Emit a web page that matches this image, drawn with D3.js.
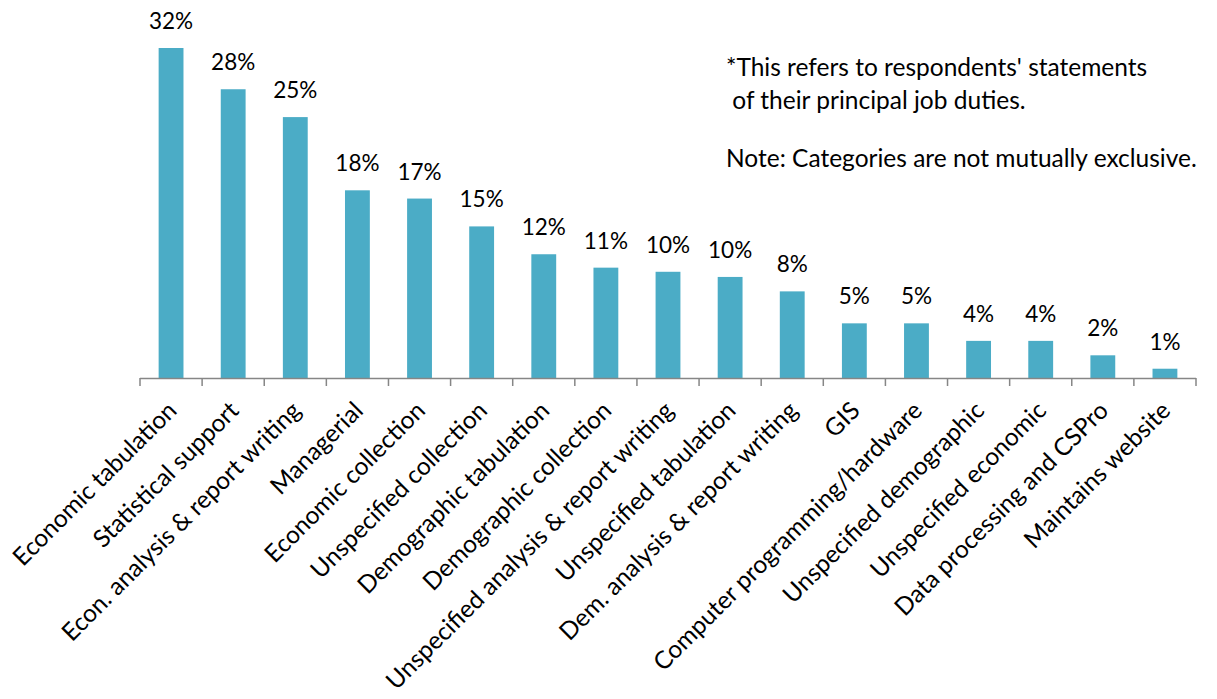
<!DOCTYPE html>
<html>
<head>
<meta charset="utf-8">
<script src="https://cdn.jsdelivr.net/npm/d3@7"></script>
<style>
  html, body { margin: 0; padding: 0; background: #fff; }
  svg text { font-family: Lato, "Open Sans", sans-serif; fill: #000; }
</style>
</head>
<body>
<svg id="chart" width="1217" height="699"></svg>
<script>
// Principal job duties of respondents (percent of respondents)
const categories = [
  "Economic tabulation",
  "Statistical support",
  "Econ. analysis & report writing",
  "Managerial",
  "Economic collection",
  "Unspecified collection",
  "Demographic tabulation",
  "Demographic collection",
  "Unspecified analysis & report writing",
  "Unspecified tabulation",
  "Dem. analysis & report writing",
  "GIS",
  "Computer programming/hardware",
  "Unspecified demographic",
  "Unspecified economic",
  "Data processing and CSPro",
  "Maintains website"
];
const percentages = [32.0, 28.0, 25.3, 18.2, 17.4, 14.7, 12.0, 10.7, 10.3, 9.8, 8.4, 5.3, 5.3, 3.6, 3.6, 2.2, 0.9];
const notes = [
  "*This refers to respondents' statements",
  " of their principal job duties.",
  "Note: Categories are not mutually exclusive."
];

const svg = d3.select("#chart");
const axisY = 378;

const x = d3.scaleBand()
  .domain(categories)
  .range([140, 1196])
  .paddingInner(0.6)
  .paddingOuter(0.3);

const y = d3.scaleLinear()
  .domain([0, 32])
  .range([axisY, 48]);

const data = categories.map((c, i) => ({ cat: c, value: percentages[i] }));

// Bars
svg.append("g")
  .selectAll("rect")
  .data(data)
  .join("rect")
  .attr("x", d => x(d.cat))
  .attr("y", d => y(d.value))
  .attr("width", x.bandwidth())
  .attr("height", d => y(0) - y(d.value))
  .attr("fill", "#4BACC6");

// Value labels
svg.append("g")
  .selectAll("text")
  .data(data)
  .join("text")
  .attr("x", d => x(d.cat) + x.bandwidth() / 2)
  .attr("y", d => y(d.value) - 19)
  .attr("text-anchor", "middle")
  .attr("font-size", 22.5)
  .text(d => d3.format(".0f")(d.value) + "%");

// Category axis with ticks between categories
const step = x.step();
const edges = d3.range(categories.length + 1).map(i => 140 + i * step);
const axisG = svg.append("g");
axisG.append("line")
  .attr("x1", 140).attr("x2", 1196)
  .attr("y1", axisY + 0.5).attr("y2", axisY + 0.5)
  .attr("stroke", "#868686").attr("stroke-width", 1.5);
axisG.selectAll("line.tick")
  .data(edges)
  .join("line")
  .attr("class", "tick")
  .attr("x1", d => d).attr("x2", d => d)
  .attr("y1", axisY).attr("y2", axisY + 8)
  .attr("stroke", "#868686").attr("stroke-width", 1.5);

// Rotated category labels
svg.append("g")
  .selectAll("text")
  .data(categories)
  .join("text")
  .attr("text-anchor", "end")
  .attr("font-size", 24.5)
  .attr("dy", "0.35em")
  .attr("transform", d => `translate(${x(d) + x.bandwidth() / 2 + 1},${axisY + 28}) rotate(-45)`)
  .text(d => d);

// Notes
const noteY = [76, 109, 167];
svg.append("g")
  .selectAll("text")
  .data(notes)
  .join("text")
  .attr("x", 726)
  .attr("y", (d, i) => noteY[i])
  .attr("font-size", 24.5)
  .attr("xml:space", "preserve")
  .style("white-space", "pre")
  .text(d => d);
</script>
</body>
</html>
